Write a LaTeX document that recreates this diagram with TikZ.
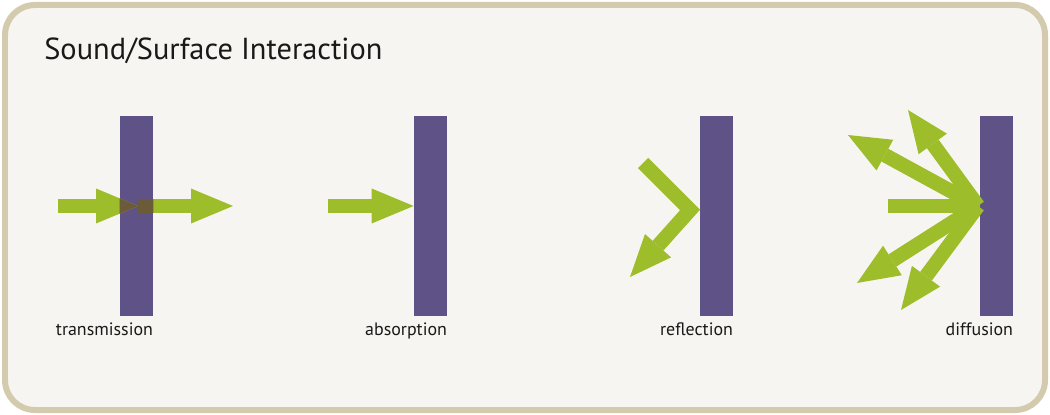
\documentclass[tikz,border=0pt]{standalone}
\usepackage{fontspec}
\setmainfont{PT Sans}
\usetikzlibrary{arrows.meta}

\definecolor{wavegreen}{HTML}{9EBD2A}
\definecolor{wallpurple}{HTML}{5E5287}
\definecolor{wavedark}{HTML}{6B5B38}
\definecolor{frametan}{HTML}{D4CAAE}
\definecolor{panelbg}{HTML}{F7F5F1}

\tikzset{
  wall/.style={fill=wallpurple, minimum width=0.66cm, minimum height=4cm, inner sep=0pt},
  wave/.style={draw=wavegreen, line width=0.29cm, line join=miter},
  wavetip/.style={-{Triangle[length=0.84cm,width=0.7cm,line width=0pt]}},
  caption/.style={anchor=north east, inner sep=0pt, yshift=-0.13cm, font=\fontsize{10.2}{12}\selectfont, text=black!90}
}

\begin{document}
\begin{tikzpicture}[x=0.02cm, y=-0.02cm]
    \useasboundingbox (0,0) rectangle (1050,415);
    \fill[white] (0,0) rectangle (1050,415);

    % Frame and title
    \filldraw[fill=panelbg, draw=frametan, line width=0.12cm, rounded corners=0.6cm] (5,5) rectangle (1045,410);
    \node[anchor=base west, inner sep=0pt, font=\fontsize{17.3}{20}\selectfont, text=black!90] (title) at (44,60) {Sound/Surface Interaction};

    % Walls
    \node[wall] (tbar) at (136.5,216) {};
    \node[wall] (abar) at (430.5,216) {};
    \node[wall] (rbar) at (716.5,216) {};
    \node[wall] (dbar) at (996.5,216) {};

    % Transmission
    \coordinate (tin) at (58,206);
    \coordinate (tmid) at (138,206);
    \coordinate (tout) at (233,206);
    \draw[wave,wavetip] (tin) -- (tmid);
    \draw[wave,wavetip] (tbar.center |- tin) -- (tout);
    \begin{scope}
        \clip (tbar.north west) rectangle (tbar.south east);
        \draw[wave,wavetip,draw=wavedark] (tin) -- (tmid);
        \draw[wave,draw=wavedark] (tbar.center |- tin) -- (tout);
    \end{scope}

    % Absorption
    \coordinate (ain) at (328,206);
    \draw[wave,wavetip] (ain) -- (abar.west |- ain);

    % Reflection
    \coordinate (rin) at (643,163);
    \coordinate (rhit) at (690,210);
    \coordinate (rout) at (630,277);
    \draw[wave,wavetip] (rin) -- (rhit) -- (rout);

    % Diffusion
    \coordinate (din) at (888,206);
    \coordinate (dhub) at (978,206);
    \coordinate (d1) at (908,110);
    \coordinate (d2) at (848,135);
    \coordinate (d3) at (857,283);
    \coordinate (d4) at (901,310);
    \draw[wave] (din) -- (dbar.west |- din);
    \foreach \n in {1,...,4}
        \draw[wave,wavetip] (dhub) -- (d\n);

    % Labels
    \node[caption] (tlabel) at (tbar.south east) {transmission};
    \node[caption] (alabel) at (abar.south east) {absorption};
    \node[caption] (rlabel) at (rbar.south east) {reflection};
    \node[caption] (dlabel) at (dbar.south east) {diffusion};
\end{tikzpicture}
\end{document}
